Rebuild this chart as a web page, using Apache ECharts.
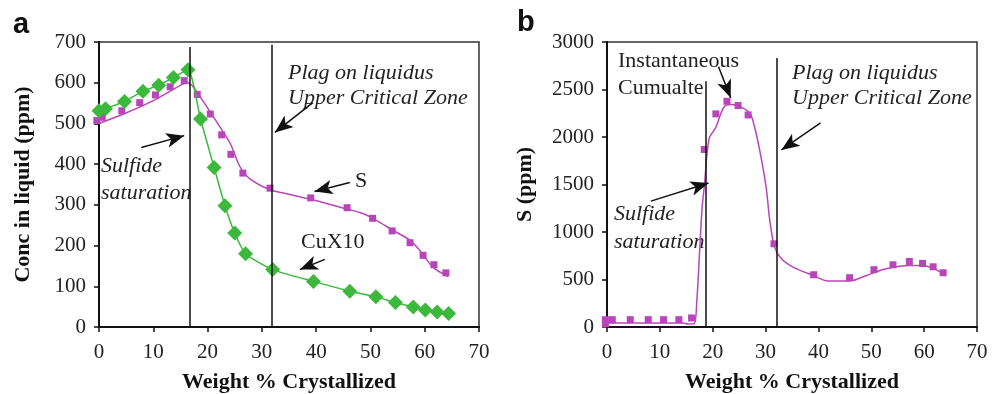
<!DOCTYPE html>
<html>
<head>
<meta charset="utf-8">
<script src="https://cdn.jsdelivr.net/npm/echarts@6/dist/echarts.min.js"></script>
<style>
  html, body { margin: 0; padding: 0; background: #fff; }
  #chart { width: 996px; height: 394px; }
</style>
</head>
<body>
<div id="chart"></div>
<script>
// panel a: Cu x10 (diamonds) and S (squares) in liquid
const cuX = [0, 1.2, 4.7, 8.1, 11.0, 13.7, 16.4, 18.7, 21.2, 23.2, 25.0, 27.0, 32.0, 39.5, 46.2, 51.0, 54.6, 57.9, 60.1, 62.3, 64.4];
const cuY = [531, 536, 554, 579, 594, 613, 632, 511, 392, 298, 231, 180, 141, 112, 88, 74, 60, 49, 42, 37, 33];

const sLeftX = [-0.4, 0.6, 4.2, 7.5, 10.4, 13.1, 15.7, 18.1, 20.5, 22.6, 24.3, 26.5, 31.5, 39.0, 45.7, 50.4, 54.0, 57.3, 59.7, 61.7, 63.9];
const sLeftY = [507, 515, 531, 551, 570, 590, 605, 571, 523, 472, 424, 378, 341, 317, 293, 267, 236, 207, 176, 153, 133];

// model curve for S (panel a)
const sLeftModelX = [0, 4.5, 10, 15.8, 16.4, 17.4, 19.9, 22.3, 24.2, 26, 27.8, 31.5, 34, 39.5, 45.6, 48.7, 51.1, 54.2, 57.3, 59.1, 61.5, 64.3];
const sLeftModelY = [500, 523, 556, 599, 600, 589, 540, 491, 450, 393, 364, 337, 329, 312, 290, 278, 262, 237, 213, 188, 147, 124];

// panel b: S in instantaneous cumulate
const sRightX = [-0.3, -0.3, 1.0, 4.4, 7.8, 10.7, 13.6, 16.0, 18.4, 20.6, 22.7, 24.8, 26.7, 31.6, 39.1, 45.9, 50.5, 54.1, 57.2, 59.7, 61.7, 63.6];
const sRightY = [77, 35, 77, 77, 77, 77, 77, 95, 1868, 2243, 2376, 2331, 2232, 876, 550, 519, 603, 655, 690, 669, 634, 571];

const sRightModelX = [0, 14.4, 15.3, 16.5, 17.0, 17.5, 18.0, 18.4, 19.3, 20.6, 22.1, 23.5, 25.1, 26.9, 27.6, 28.9, 30.1, 30.8, 31.7, 33.0, 35.2, 39.0, 41.8, 45.9, 49.1, 52.8, 57.3, 59.5, 61.7, 64.1];
const sRightModelY = [42, 42, 32, 35, 280, 771, 1262, 1472, 1980, 2103, 2313, 2341, 2320, 2260, 2173, 1857, 1472, 1121, 841, 718, 631, 543, 484, 484, 543, 613, 648, 648, 620, 540];

// vertical markers [x, top]
const leftMarkers = [[16.8, 688], [31.8, 693]];
const rightMarkers = [[18.7, 2586], [32.1, 2832]];

// arrows [[x0,y0],[x1,y1]] (head at the second point)
const leftArrows = [
  [[7.8, 441], [15.7, 470]],
  [[39.4, 551], [32.4, 478]],
  [[46.2, 355], [39.7, 333]],
  [[41.6, 166], [37.0, 141]]
];
const rightArrows = [
  [[8.3, 1325], [19.2, 1516]],
  [[21.1, 2739], [23.4, 2412]],
  [[40.4, 2149], [33.0, 1864]]
];

const zip = (xs, ys) => xs.map((x, i) => [x, ys[i]]);

const MAGENTA = '#b946b9';
const GREEN = '#3cb93c';
const SERIF = 'Liberation Serif';

const chart = echarts.init(document.getElementById('chart'));

function xAxis(gridIndex) {
  return {
    gridIndex, type: 'value', min: 0, max: 70, interval: 10,
    name: 'Weight % Crystallized', nameLocation: 'middle', nameGap: 44,
    nameTextStyle: { fontFamily: SERIF, fontWeight: 'bold', fontSize: 22, color: '#111' },
    axisLine: { onZero: false, lineStyle: { color: '#111', width: 2 } },
    axisTick: { show: true, inside: false, length: 5, lineStyle: { color: '#111', width: 1.5 } },
    axisLabel: { fontFamily: SERIF, fontSize: 21, color: '#222', margin: 15 },
    splitLine: { show: false }
  };
}
function yAxis(gridIndex, max, interval, name, gap) {
  return {
    gridIndex, type: 'value', min: 0, max, interval,
    name, nameLocation: 'middle', nameGap: gap, nameRotate: 90,
    nameTextStyle: { fontFamily: SERIF, fontWeight: 'bold', fontSize: 22, color: '#111' },
    axisLine: { lineStyle: { color: '#111', width: 2 } },
    axisTick: { show: true, inside: false, length: 5, lineStyle: { color: '#111', width: 1.5 } },
    axisLabel: { fontFamily: SERIF, fontSize: 21, color: '#222', margin: 13, formatter: v => String(v) },
    splitLine: { show: false }
  };
}

function vLines(markers) {
  return markers.map(([x, top]) => [
    { coord: [x, 0], symbol: 'none' },
    { coord: [x, top], symbol: 'none' }
  ]);
}
function arrows(list) {
  return list.map(([a, b]) => [
    { coord: a, symbol: 'none' },
    { coord: b, symbol: 'arrow', symbolSize: [11, 18] }
  ]);
}

// centre y of the text line
function txt(x, cy, text, opts) {
  return {
    type: 'text', left: x, top: cy - 12,
    style: Object.assign({
      text, fontFamily: SERIF, fontSize: 22, fill: '#222'
    }, opts || {})
  };
}

chart.setOption({
  animation: false,
  grid: [
    { left: 99, top: 42, width: 380, height: 285, show: true, borderColor: '#333', borderWidth: 1.5, outerBoundsMode: 'none' },
    { left: 607, top: 42, width: 370, height: 285, show: true, borderColor: '#333', borderWidth: 1.5, outerBoundsMode: 'none' }
  ],
  xAxis: [xAxis(0), xAxis(1)],
  yAxis: [
    yAxis(0, 700, 100, 'Conc in liquid (ppm)', 65),
    yAxis(1, 3000, 500, 'S (ppm)', 71)
  ],
  series: [
    {
      type: 'line', xAxisIndex: 0, yAxisIndex: 0, data: zip(sLeftModelX, sLeftModelY),
      smooth: 0.3, showSymbol: false, lineStyle: { color: MAGENTA, width: 1.5 },
      markLine: {
        silent: true, animation: false, label: { show: false },
        lineStyle: { color: '#111', width: 1.5, type: 'solid' },
        data: vLines(leftMarkers)
      }
    },
    {
      type: 'line', xAxisIndex: 0, yAxisIndex: 0, data: zip(cuX, cuY),
      smooth: 0.2, showSymbol: false, lineStyle: { color: GREEN, width: 1.5 },
      markLine: {
        silent: true, animation: false, label: { show: false },
        lineStyle: { color: '#111', width: 1.5, type: 'solid' },
        data: arrows(leftArrows)
      }
    },
    {
      type: 'scatter', xAxisIndex: 0, yAxisIndex: 0, data: zip(sLeftX, sLeftY), clip: false,
      symbol: 'rect', symbolSize: 7, itemStyle: { color: MAGENTA, opacity: 1 }
    },
    {
      type: 'scatter', xAxisIndex: 0, yAxisIndex: 0, data: zip(cuX, cuY), clip: false,
      symbol: 'diamond', symbolSize: 15, itemStyle: { color: GREEN, opacity: 1 }
    },
    {
      type: 'line', xAxisIndex: 1, yAxisIndex: 1, data: zip(sRightModelX, sRightModelY),
      smooth: 0.3, showSymbol: false, lineStyle: { color: MAGENTA, width: 1.5 },
      markLine: {
        silent: true, animation: false, label: { show: false },
        lineStyle: { color: '#111', width: 1.5, type: 'solid' },
        data: vLines(rightMarkers).concat(arrows(rightArrows))
      }
    },
    {
      type: 'scatter', xAxisIndex: 1, yAxisIndex: 1, data: zip(sRightX, sRightY), clip: false,
      symbol: 'rect', symbolSize: 7, itemStyle: { color: MAGENTA, opacity: 1 }
    }
  ],
  graphic: [
    { type: 'text', left: 13, top: 10, style: { text: 'a', fontFamily: 'Liberation Sans', fontWeight: 'bold', fontSize: 29, fill: '#111' } },
    { type: 'text', left: 517, top: 8, style: { text: 'b', fontFamily: 'Liberation Sans', fontWeight: 'bold', fontSize: 29, fill: '#111' } },
    // panel a
    txt(288, 74, 'Plag on liquidus', { fontStyle: 'italic' }),
    txt(288, 99, 'Upper Critical Zone', { fontStyle: 'italic' }),
    txt(101, 167, 'Sulfide', { fontStyle: 'italic' }),
    txt(101, 194, 'saturation', { fontStyle: 'italic' }),
    txt(355, 182, 'S'),
    txt(301, 243, 'CuX10'),
    // panel b
    txt(618, 62, 'Instantaneous'),
    txt(618, 89, 'Cumualte'),
    txt(792, 74, 'Plag on liquidus', { fontStyle: 'italic' }),
    txt(792, 99, 'Upper Critical Zone', { fontStyle: 'italic' }),
    txt(614, 215, 'Sulfide', { fontStyle: 'italic' }),
    txt(614, 243, 'saturation', { fontStyle: 'italic' })
  ]
});
</script>
</body>
</html>
